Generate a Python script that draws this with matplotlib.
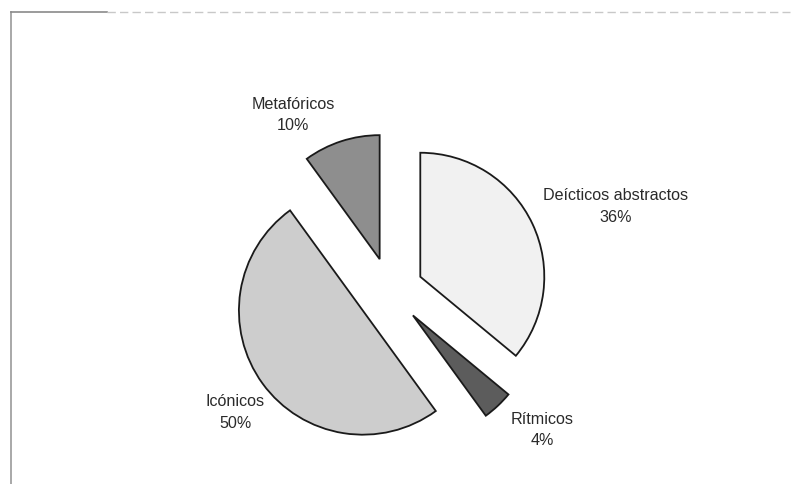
import matplotlib.pyplot as plt
from matplotlib.lines import Line2D

# gesture types, clockwise from the top
categories = ["Deícticos abstractos", "Rítmicos", "Icónicos", "Metafóricos"]
shares = [36, 4, 50, 10]

colors = ["#f1f1f1", "#5c5c5c", "#cdcdcd", "#8e8e8e"]
# label centres, in pie radius units
label_pos = [(1.82, 0.68), (1.23, -1.12), (-1.25, -0.98), (-0.78, 1.42)]

plt.rcParams['font.family'] = ['Liberation Sans', 'DejaVu Sans']

fig = plt.figure(figsize=(7.99, 4.84), dpi=100)
ax = fig.add_axes([0, 0, 1, 1])

wedges, _ = ax.pie(shares, colors=colors, startangle=90, counterclock=False,
                   explode=[0.27] * len(shares),
                   wedgeprops=dict(edgecolor="#1a1a1a", linewidth=1.3))

for name, val, (x, y) in zip(categories, shares, label_pos):
    ax.text(x, y, f"{name}\n{val}%", ha="center", va="center",
            fontsize=11.6, color="#2a2a2a", linespacing=1.55)

# one pixel = 1/124 of the radius
ax.set_xlim(-390 / 124, 409 / 124)
ax.set_ylim(-193 / 124, 291 / 124)
ax.set_aspect("equal")
ax.axis("off")

# outer frame: left edge and top edge of the chart area
fig.add_artist(Line2D([11 / 799, 11 / 799], [0, 1 - 12 / 484],
                      color="#9a9a9a", linewidth=1.2))
fig.add_artist(Line2D([11 / 799, 107 / 799], [1 - 12 / 484, 1 - 12 / 484],
                      color="#8a8a8a", linewidth=1.2))
fig.add_artist(Line2D([107 / 799, 790 / 799], [1 - 12 / 484, 1 - 12 / 484],
                      color="#c8c8c8", linewidth=1.0, linestyle=(0, (6, 3))))

fig.savefig("out.png", dpi=100)
